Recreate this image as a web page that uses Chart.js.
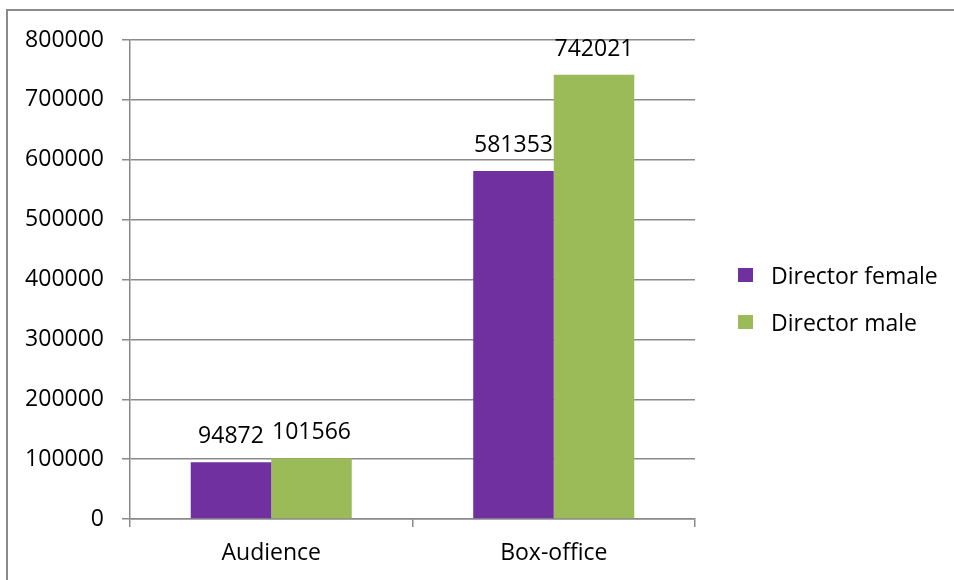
<!DOCTYPE html>
<html>
<head>
<meta charset="utf-8">
<script src="https://cdn.jsdelivr.net/npm/chart.js@4.4.1/dist/chart.umd.min.js"></script>
<style>
  html, body { margin: 0; padding: 0; background: #fff; }
  .frame {
    position: absolute; left: 6px; top: 9px; width: 1000px; height: 700px;
    border-left: 2px solid #8a8a8a; border-top: 2px solid #8a8a8a;
  }
  .wrap { position: absolute; left: 0; top: 0; width: 954px; height: 580px; }
  .legend { position: absolute; left: 738px; top: 261px; font: 23px "Open Sans", sans-serif; color: #000; }
  .legend-item { position: relative; height: 47px; line-height: 28px; padding-left: 33px; }
  .legend-box { position: absolute; left: 0; top: 7px; width: 15px; height: 14px; }
</style>
</head>
<body>
<div class="frame"></div>
<div class="wrap">
  <canvas id="chart" width="954" height="580"></canvas>
  <div class="legend js-legend"></div>
</div>
<script>
const categories = ['Audience', 'Box-office'];
const seriesNames = ['Director female', 'Director male'];
const femaleValues = [94872, 581353];
const maleValues = [101566, 742021];
const seriesColors = ['#7030A0', '#9BBB59'];
const yTicks = [0, 100000, 200000, 300000, 400000, 500000, 600000, 700000, 800000];

const lineColor = '#8a8a8a';
const fontFamily = '"Open Sans", sans-serif';
Chart.defaults.font.family = fontFamily;
Chart.defaults.font.size = 23;
Chart.defaults.color = '#000';

// values above each bar
const barLabels = {
  id: 'barLabels',
  afterDatasetsDraw(chart) {
    const ctx = chart.ctx;
    ctx.save();
    ctx.font = '23px ' + fontFamily;
    ctx.fillStyle = '#000';
    ctx.textAlign = 'center';
    ctx.textBaseline = 'alphabetic';
    chart.data.datasets.forEach((ds, i) => {
      chart.getDatasetMeta(i).data.forEach((bar, j) => {
        ctx.fillText(String(ds.data[j]), bar.x, bar.y - 19);
      });
    });
    ctx.restore();
  }
};

const chart = new Chart(document.getElementById('chart'), {
  type: 'bar',
  data: {
    labels: categories,
    datasets: [
      { label: seriesNames[0], data: femaleValues, backgroundColor: seriesColors[0] },
      { label: seriesNames[1], data: maleValues, backgroundColor: seriesColors[1] }
    ]
  },
  options: {
    responsive: false,
    animation: false,
    layout: { padding: { top: 40, right: 259, bottom: 0, left: 0 } },
    datasets: { bar: { categoryPercentage: 0.57, barPercentage: 1.0 } },
    plugins: { legend: { display: false }, tooltip: { enabled: false } },
    scales: {
      x: {
        grid: { drawOnChartArea: false, drawTicks: true, tickLength: 8, color: lineColor, lineWidth: 1.5 },
        border: { color: lineColor, width: 1.5 },
        ticks: { padding: 13 },
        afterFit: scale => { scale.height = 61; }
      },
      y: {
        min: 0,
        max: 800000,
        afterBuildTicks: scale => { scale.ticks = yTicks.map(v => ({ value: v })); },
        grid: { color: lineColor, lineWidth: 1.5, tickLength: 8 },
        border: { color: lineColor, width: 1.5 },
        ticks: { padding: 18, callback: v => String(v) },
        afterFit: scale => { scale.width = 130; }
      }
    }
  },
  plugins: [barLabels]
});

// legend on the right, built from the datasets
const legendEl = document.querySelector('.js-legend');
chart.data.datasets.forEach(ds => {
  const item = document.createElement('div');
  item.className = 'legend-item';
  const box = document.createElement('span');
  box.className = 'legend-box';
  box.style.background = ds.backgroundColor;
  item.appendChild(box);
  item.appendChild(document.createTextNode(ds.label));
  legendEl.appendChild(item);
});
</script>
</body>
</html>
